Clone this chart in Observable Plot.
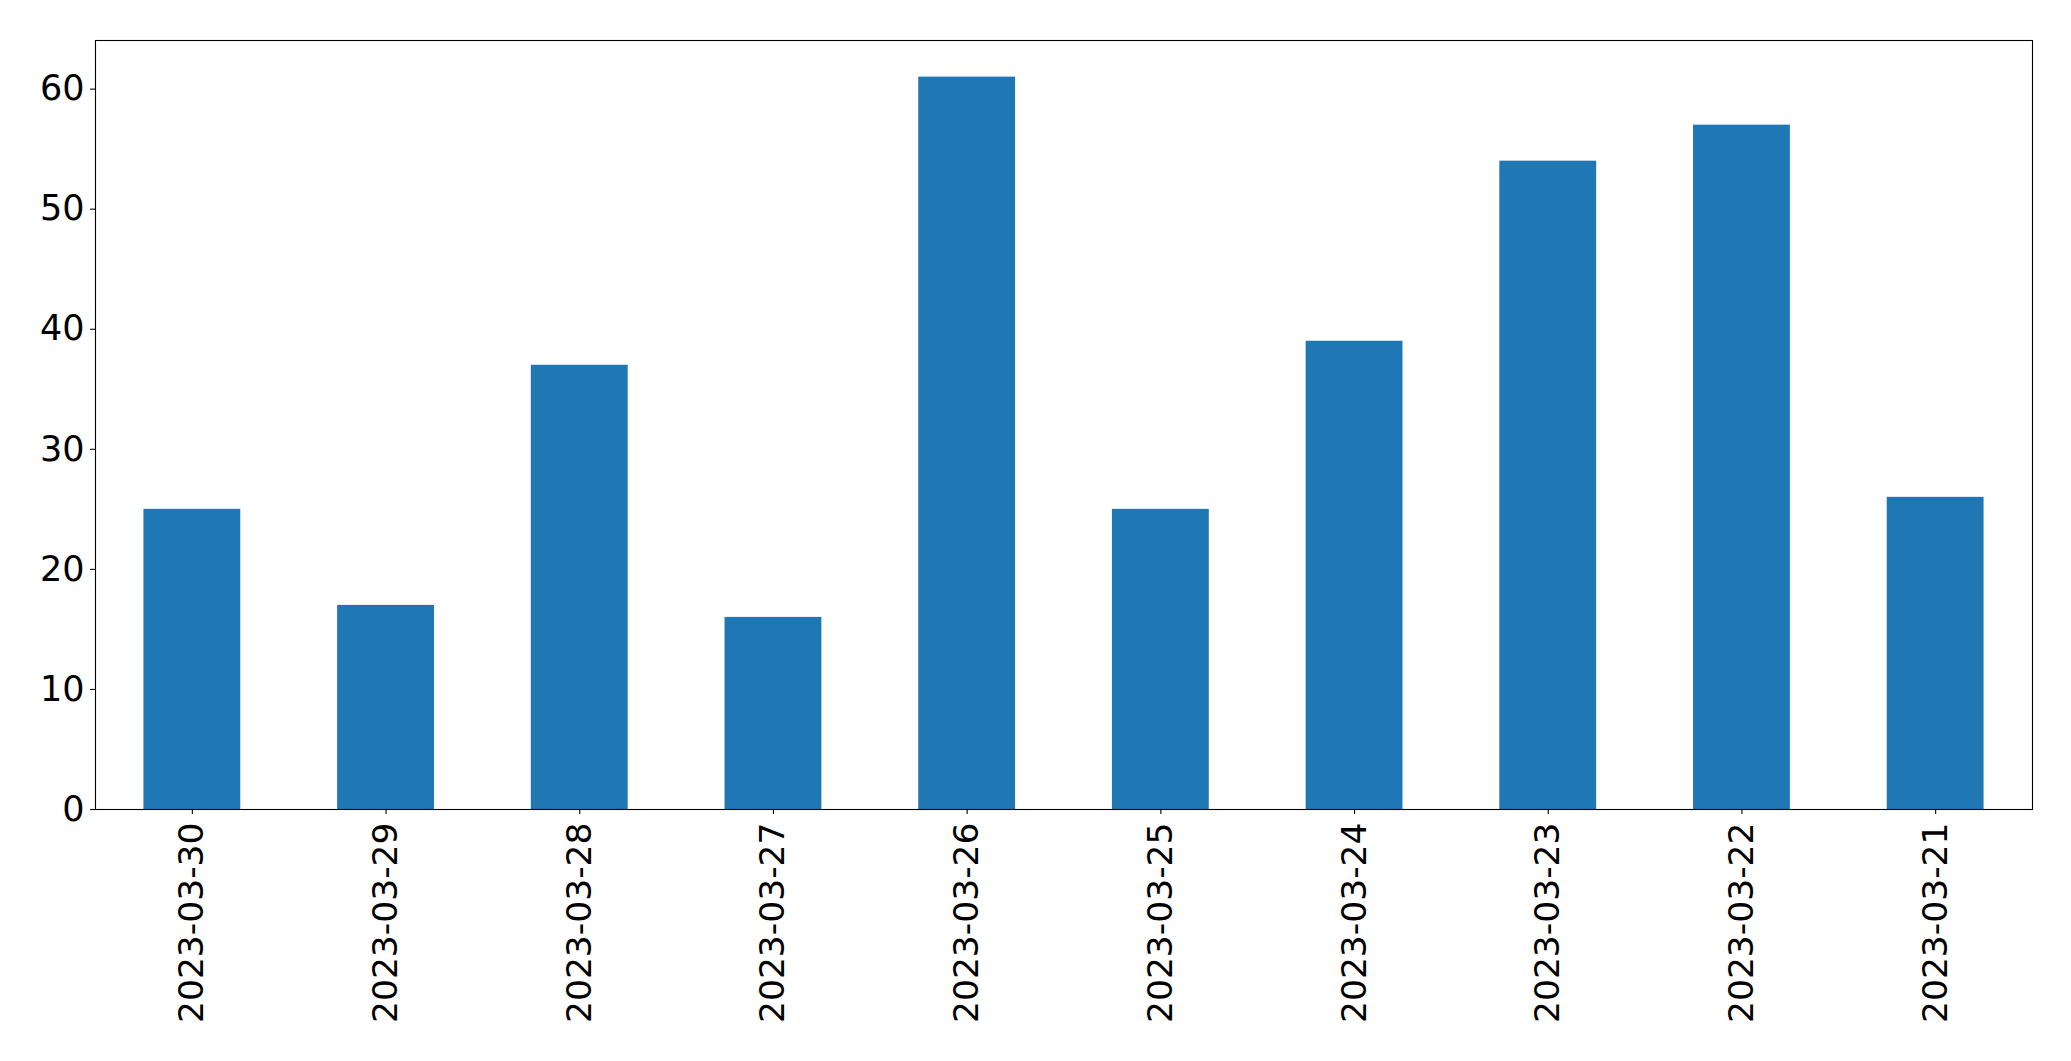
<!DOCTYPE html>
<html>
<head>
<meta charset="utf-8">
<script src="https://cdn.jsdelivr.net/npm/d3@7"></script>
<script src="https://cdn.jsdelivr.net/npm/@observablehq/plot@0.6"></script>
<style>
  html, body { margin: 0; padding: 0; background: #fff; }
</style>
</head>
<body>
<div id="chart"></div>
<script>
const dates = ["2023-03-30", "2023-03-29", "2023-03-28", "2023-03-27", "2023-03-26",
               "2023-03-25", "2023-03-24", "2023-03-23", "2023-03-22", "2023-03-21"];
const counts = [25, 17, 37, 16, 61, 25, 39, 54, 57, 26];
const yTicks = [0, 10, 20, 30, 40, 50, 60];

const data = dates.map((d, i) => ({date: d, count: counts[i]}));

const chart = Plot.plot({
  width: 2071,
  height: 1061,
  marginLeft: 95,
  marginRight: 39,
  marginTop: 40,
  marginBottom: 252,
  style: {fontFamily: "DejaVu Sans", fontSize: "35px", color: "#000", background: "#fff"},
  x: {domain: dates, paddingInner: 0.5, paddingOuter: 0.25, align: 0.5, round: false, label: null},
  y: {domain: [0, 64.05], label: null},
  marks: [
    Plot.barY(data, {x: "date", y: "count", fill: "#1f77b4"}),
    Plot.frame({stroke: "#000", strokeWidth: 1.1}),
    Plot.axisY({ticks: yTicks, tickSize: 5, tickPadding: 6, tickFormat: d => String(d), strokeWidth: 1.1, label: null}),
    Plot.axisX({tickSize: 5, tickPadding: 8, tickRotate: -90, fontSize: 34.5, strokeWidth: 1.1, label: null})
  ]
});
document.getElementById("chart").appendChild(chart);
</script>
</body>
</html>
